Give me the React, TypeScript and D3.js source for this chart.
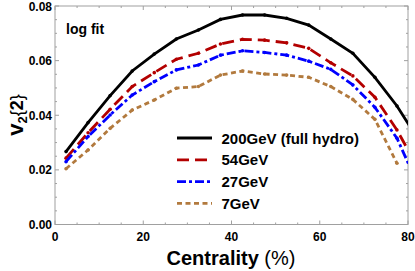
import React, { useRef, useEffect } from 'react';
import * as d3 from 'd3';

// centrality bin centres (%)
const centrality = [2.5, 7.5, 12.5, 17.5, 22.5, 27.5, 32.5, 37.5, 42.5, 47.5, 52.5, 57.5, 62.5, 67.5, 72.5, 77.5, 82.5];

const v200 = [0.0267, 0.0373, 0.0472, 0.0562, 0.0624, 0.0679, 0.0712, 0.0751, 0.0767, 0.0767, 0.0755, 0.0730, 0.0679, 0.0627, 0.0539, 0.0434, 0.0306];
const v54 = [0.0243, 0.0336, 0.0422, 0.0505, 0.0556, 0.0605, 0.0627, 0.0661, 0.0678, 0.0675, 0.0665, 0.0645, 0.0592, 0.0544, 0.0466, 0.0346, 0.0200];
const v27 = [0.0230, 0.0322, 0.0401, 0.0474, 0.0523, 0.0566, 0.0584, 0.0620, 0.0636, 0.0630, 0.0620, 0.0598, 0.0568, 0.0511, 0.0429, 0.0316, 0.0136];
const v7 = [0.0204, 0.0273, 0.0352, 0.0419, 0.0456, 0.0499, 0.0505, 0.0547, 0.0562, 0.0551, 0.0547, 0.0539, 0.0505, 0.0458, 0.0385, 0.0224];

const xTicks = [0, 20, 40, 60, 80];
const yTicks = [0, 0.02, 0.04, 0.06, 0.08];

const seriesLabels = ['200GeV (full hydro)', '54GeV', '27GeV', '7GeV'];

interface Series {
  label: string;
  values: number[];
  color: string;
  dash: string;
}

const series: Series[] = [
  { label: seriesLabels[0], values: v200, color: '#000000', dash: '' },
  { label: seriesLabels[1], values: v54, color: '#b30000', dash: '12,6' },
  { label: seriesLabels[2], values: v27, color: '#0000ff', dash: '9,3,3,3' },
  { label: seriesLabels[3], values: v7, color: '#b27a3e', dash: '5,3.5' },
];

const W = 415;
const H = 271;
const font = '"Liberation Sans", Arial, sans-serif';

export default function App() {
  const ref = useRef<SVGSVGElement | null>(null);

  useEffect(() => {
    if (!ref.current) return;
    const svg = d3.select(ref.current);
    svg.selectAll('*').remove();

    const x = d3.scaleLinear().domain([0, 80]).range([55, 408]);
    const y = d3.scaleLinear().domain([0, 0.08]).range([224.5, 6]);
    const [x0, x1] = x.range();
    const [y0, y1] = y.range();

    svg.append('defs').append('clipPath').attr('id', 'plot')
      .append('rect')
      .attr('x', x0).attr('y', y1)
      .attr('width', x1 - x0).attr('height', y0 - y1);

    const frame = '#a0a0a0';

    // minor + major ticks on all four sides
    const g = svg.append('g').attr('stroke', frame).attr('stroke-width', 1);
    d3.range(0, 81, 5).forEach(t => {
      const len = t % 20 === 0 ? 4 : 2;
      g.append('line').attr('x1', x(t)).attr('x2', x(t)).attr('y1', y0).attr('y2', y0 - len);
      g.append('line').attr('x1', x(t)).attr('x2', x(t)).attr('y1', y1).attr('y2', y1 + len);
    });
    d3.range(0, 17).forEach(i => {
      const t = i * 0.005;
      const len = i % 4 === 0 ? 4 : 2;
      g.append('line').attr('y1', y(t)).attr('y2', y(t)).attr('x1', x0).attr('x2', x0 + len);
      g.append('line').attr('y1', y(t)).attr('y2', y(t)).attr('x1', x1).attr('x2', x1 - len);
    });
    svg.append('rect')
      .attr('x', x0).attr('y', y1)
      .attr('width', x1 - x0).attr('height', y0 - y1)
      .attr('fill', 'none').attr('stroke', frame).attr('stroke-width', 1);

    // tick labels
    svg.append('g').selectAll('text').data(xTicks).enter().append('text')
      .attr('x', d => x(d)).attr('y', 240.5)
      .attr('text-anchor', 'middle')
      .attr('font-family', font).attr('font-weight', 'bold').attr('font-size', 12)
      .text(d => d);
    svg.append('g').selectAll('text').data(yTicks).enter().append('text')
      .attr('x', 52).attr('y', d => y(d) + 4.5)
      .attr('text-anchor', 'end')
      .attr('font-family', font).attr('font-weight', 'bold').attr('font-size', 12)
      .text(d => d3.format('.2f')(d));

    // curves
    const line = d3.line<number>()
      .x((_, i) => x(centrality[i]))
      .y(d => y(d));
    const plot = svg.append('g').attr('clip-path', 'url(#plot)');
    series.forEach(s => {
      plot.append('path')
        .attr('d', line(s.values) || '')
        .attr('fill', 'none')
        .attr('stroke', s.color)
        .attr('stroke-width', 2.8)
        .attr('stroke-dasharray', s.dash || null);
      plot.selectAll(null).data(s.values).enter().append('circle')
        .attr('cx', (_, i) => x(centrality[i]))
        .attr('cy', d => y(d))
        .attr('r', 1.8)
        .attr('fill', s.color);
    });

    // legend
    series.forEach((s, i) => {
      const ly = 138 + i * 21.8;
      svg.append('line')
        .attr('x1', 177).attr('x2', 212)
        .attr('y1', ly).attr('y2', ly)
        .attr('stroke', s.color).attr('stroke-width', 2.8)
        .attr('stroke-dasharray', s.dash || null);
      svg.append('text')
        .attr('x', 221.5).attr('y', ly + 5.5)
        .attr('font-family', font).attr('font-weight', 'bold').attr('font-size', 15)
        .text(s.label);
    });

    svg.append('text')
      .attr('x', 66).attr('y', 34.3)
      .attr('font-family', font).attr('font-weight', 'bold').attr('font-size', 14)
      .text('log fit');

    // axis titles
    const xt = svg.append('text')
      .attr('x', 231).attr('y', 265)
      .attr('text-anchor', 'middle')
      .attr('font-family', font).attr('font-size', 20);
    xt.append('tspan').attr('font-weight', 'bold').text('Centrality');
    xt.append('tspan').text(' (%)');

    const yt = svg.append('text')
      .attr('transform', 'translate(23,115) rotate(-90)')
      .attr('text-anchor', 'middle')
      .attr('font-family', font);
    yt.append('tspan').attr('font-weight', 'bold').attr('font-size', 22).text('v');
    yt.append('tspan').attr('font-weight', 'bold').attr('font-size', 13).attr('dy', 4).text('2');
    yt.append('tspan').attr('font-size', 18).attr('dy', -4).text('{');
    yt.append('tspan').attr('font-weight', 'bold').attr('font-size', 18).text('2');
    yt.append('tspan').attr('font-size', 18).text('}');
  }, []);

  return (
    <svg
      ref={ref}
      width={W}
      height={H}
      style={{ position: 'absolute', left: 0, top: 0, background: '#fff' }}
    />
  );
}
